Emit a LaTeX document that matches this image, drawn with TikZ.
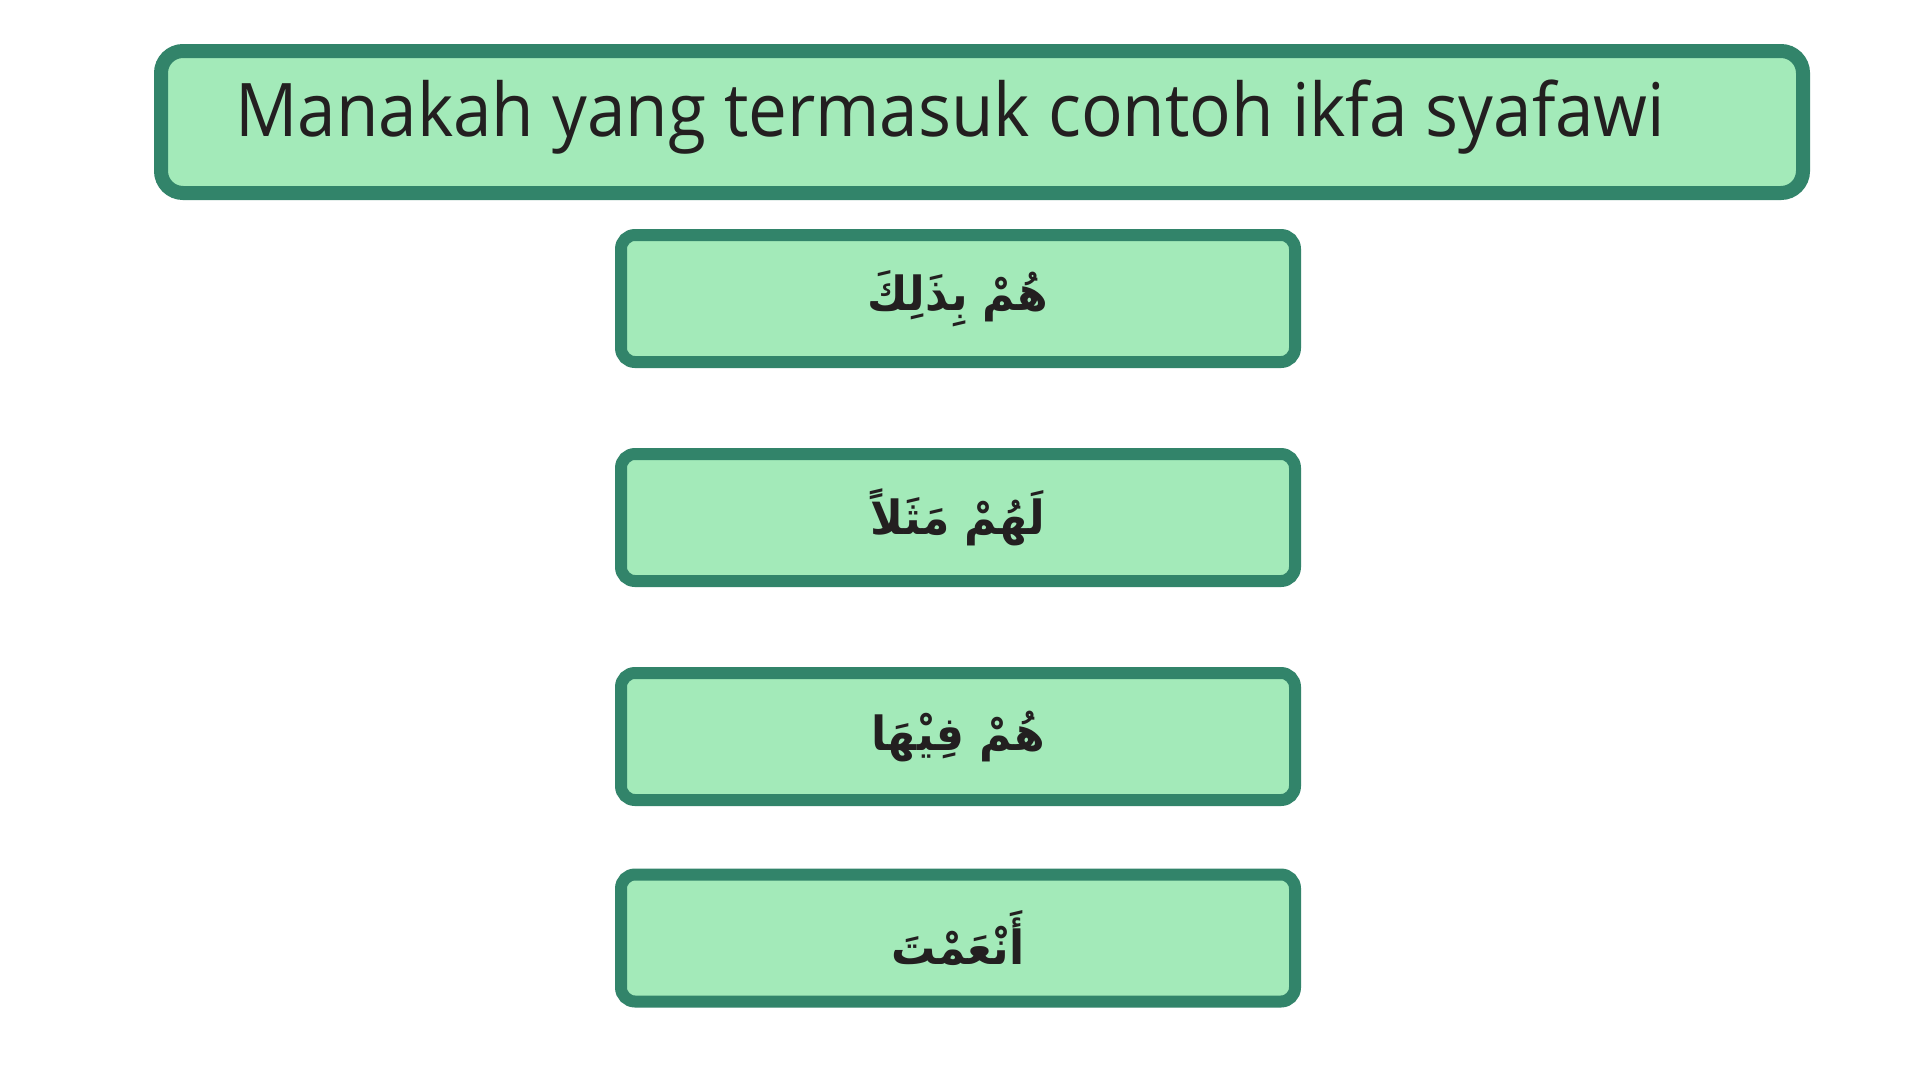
\documentclass[tikz,border=0pt]{standalone}
\usepackage{fontspec}
\setmainfont[FakeStretch=0.935]{Open Sans}
\TeXXeTstate=1
\newfontfamily\arabicfont[Script=Arabic,FakeStretch=0.94]{DejaVu Sans}
\definecolor{boxline}{HTML}{32846A}
\definecolor{boxfill}{HTML}{A3EAB9}
\definecolor{ink}{HTML}{231F20}

\begin{document}
\begin{tikzpicture}[x=1pt,y=-1pt,
    box/.style={draw=boxline,fill=boxfill,line width=12pt,rounded corners=14pt,
        minimum width=674pt,minimum height=127pt,inner sep=0pt},
    answer/.style={box,text=ink,
        font={\arabicfont\bfseries\fontsize{47}{54}\selectfont}},
    question/.style={text=ink,inner sep=0pt,
        font={\fontsize{74}{88}\selectfont}}]
\fill[white] (0,0) rectangle (1920,1080);
\useasboundingbox (0,0) rectangle (1920,1080);

\node[box,line width=14pt,rounded corners=22pt,minimum width=1642pt,
    minimum height=142pt] (title) at (982,122) {};
\node[question,anchor=base west] (ask) at (235,136)
    {Manakah yang termasuk contoh ikfa syafawi};

\node[answer] (optA) at (958,298.5) {\beginR هُمْ بِذَلِكَ\endR};
\node[answer] (optB) at (958,517.5) {\beginR لَهُمْ مَثَلاً\endR};
\node[answer] (optC) at (958,736.5) {\beginR هُمْ فِيْهَا\endR};
\node[answer] (optD) at (958,938)   {\beginR أَنْعَمْتَ\endR};
\end{tikzpicture}
\end{document}
